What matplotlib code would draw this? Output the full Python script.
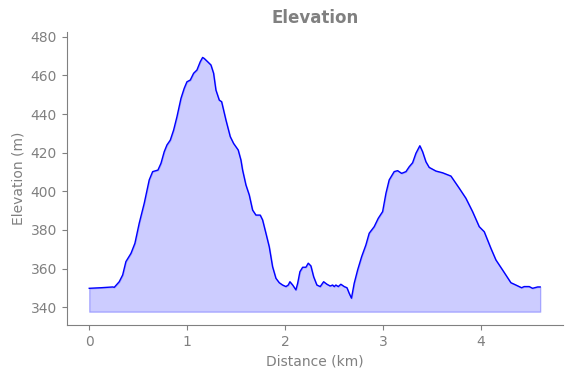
import matplotlib
matplotlib.use("Agg")
import matplotlib.pyplot as plt
import numpy as np

distance_km = [0.00, 0.12, 0.24, 0.255, 0.306, 0.341, 0.374, 0.426, 0.466, 0.510,
               0.561, 0.612, 0.647, 0.701, 0.732, 0.765, 0.793, 0.827, 0.861, 0.895,
               0.936, 0.969, 0.997, 1.031, 1.065, 1.099, 1.133, 1.157, 1.173, 1.208,
               1.242, 1.269, 1.293, 1.327, 1.351, 1.395, 1.439, 1.473, 1.520, 1.548,
               1.565, 1.599, 1.633, 1.667, 1.701, 1.745, 1.769, 1.803, 1.837, 1.871,
               1.905, 1.939, 1.973, 2.007, 2.031, 2.048, 2.076, 2.109, 2.127, 2.150,
               2.178, 2.211, 2.235, 2.262, 2.290, 2.323, 2.357, 2.392, 2.426, 2.459,
               2.484, 2.500, 2.517, 2.541, 2.568, 2.602, 2.630, 2.653, 2.676, 2.704,
               2.739, 2.780, 2.823, 2.857, 2.908, 2.949, 2.994, 3.028, 3.061, 3.112,
               3.147, 3.188, 3.232, 3.265, 3.300, 3.334, 3.374, 3.402, 3.436, 3.469,
               3.538, 3.606, 3.691, 3.776, 3.844, 3.912, 3.980, 4.031, 4.099, 4.150,
               4.218, 4.303, 4.354, 4.412, 4.439, 4.490, 4.524, 4.576, 4.602]
elevation_m = [349.8, 350.1, 350.5, 350.3, 353.2, 356.7, 363.6, 367.9, 373.1, 383.5,
               393.8, 405.9, 410.2, 411.0, 414.5, 420.5, 424.0, 426.5, 431.7, 438.6,
               448.1, 453.3, 456.7, 457.6, 461.1, 462.8, 467.1, 469.3, 468.8, 467.1,
               465.4, 461.1, 452.4, 447.2, 446.4, 436.9, 428.3, 424.8, 421.4, 416.2,
               411.0, 403.3, 398.1, 390.3, 387.7, 387.7, 385.2, 378.3, 371.3, 361.0,
               355.0, 352.7, 351.5, 350.7, 351.5, 353.2, 351.5, 349.0, 352.4, 358.4,
               360.7, 360.7, 362.8, 361.4, 355.8, 351.5, 350.7, 353.2, 351.9, 351.0,
               351.5, 350.7, 351.5, 350.7, 351.9, 350.7, 350.1, 347.2, 344.7, 352.4,
               359.3, 366.2, 372.2, 378.3, 381.7, 386.0, 389.5, 399.0, 405.9, 410.2,
               410.7, 409.3, 410.2, 412.7, 414.8, 419.7, 423.6, 420.5, 415.3, 412.4,
               410.5, 409.6, 407.9, 401.6, 396.4, 389.5, 381.7, 379.1, 370.5, 364.5,
               359.3, 352.7, 351.5, 350.1, 350.7, 350.7, 349.8, 350.5, 350.5]
fill_base_m = 337.7
y_ticks = [340, 360, 380, 400, 420, 440, 460, 480]
x_ticks = [0, 1, 2, 3, 4]

grey = "#808080"
fig = plt.figure(figsize=(5.71, 3.78), dpi=100)
ax = fig.add_axes([0.1168, 0.1402, 0.8687, 0.7758])

ax.fill_between(distance_km, elevation_m, fill_base_m, facecolor=(0, 0, 1, 0.2),
                edgecolor=(0, 0, 1, 0.25), linewidth=1)
ax.plot(distance_km, elevation_m, color="blue", linewidth=1)

ax.set_ylim(330.8, 482.6)
ax.set_yticks(y_ticks)
ax.set_xticks(x_ticks)
ax.set_title("Elevation", color=grey, fontweight="bold", fontsize=12)
ax.set_xlabel("Distance (km)", color=grey)
ax.set_ylabel("Elevation (m)", color=grey)
for s in ["top", "right"]:
    ax.spines[s].set_visible(False)
for s in ["left", "bottom"]:
    ax.spines[s].set_color(grey)
ax.tick_params(colors=grey, labelcolor=grey)

fig.savefig("out.png", dpi=100)
